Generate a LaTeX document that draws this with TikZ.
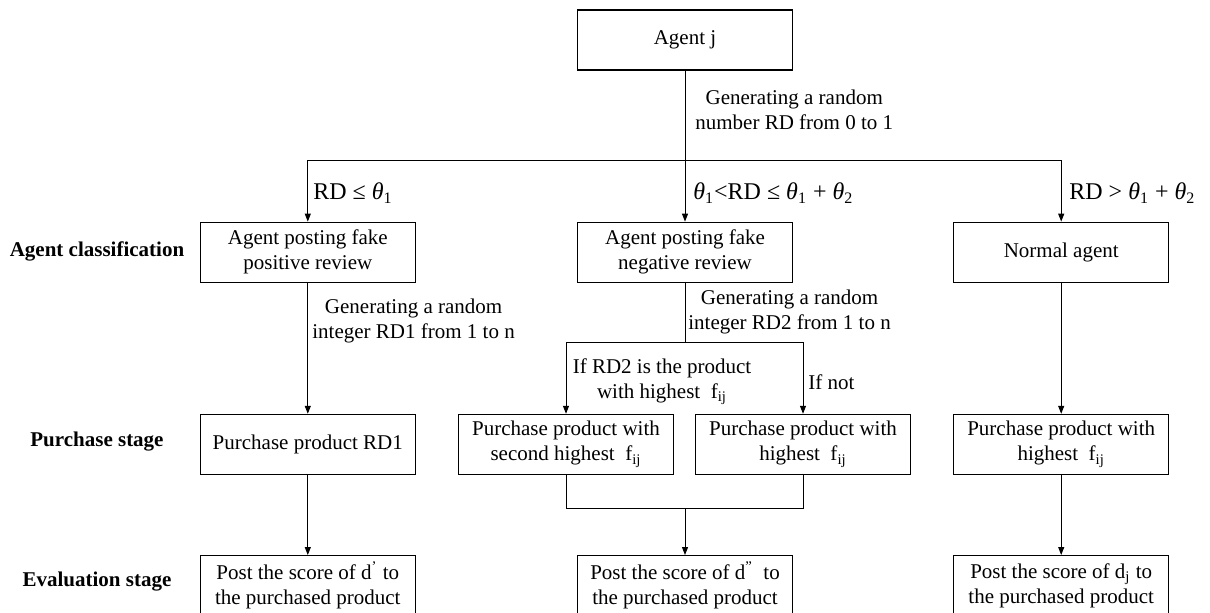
\documentclass[tikz,border=0pt]{standalone}
\usepackage{fontspec}
\setmainfont{Liberation Serif}
\usetikzlibrary{arrows.meta,positioning}

\begin{document}
\begin{tikzpicture}[x=0.5pt, y=-0.5pt, font=\fontsize{10.5}{12.5}\selectfont,
      >={Triangle[length=4pt, width=3pt]},
      box/.style={draw, line width=0.6pt, align=center, inner sep=2pt,
                  minimum width=107.5pt, minimum height=30pt},
      stage/.style={font=\fontsize{10.5}{12.5}\selectfont\bfseries},
      lbl/.style={align=center, inner sep=0pt},
      mlbl/.style={font=\fontsize{12}{14}\selectfont, anchor=west, inner sep=0pt},
      ar/.style={->, line width=0.5pt}]
    \useasboundingbox (0,0) rectangle (1210,612);
    % --- agent and its three classes ---
    \node[box] (agent) at (685,40) {Agent j};
    \node[box, below=75.5pt of agent] (neg) {Agent posting fake\\negative review};
    \node[box, left=80.5pt of neg] (pos) {Agent posting fake\\positive review};
    \node[box, right=80pt of neg] (norm) {Normal agent};
    \coordinate (fork) at (685,160);
    \draw[line width=0.5pt] (agent.south) -- (fork);
    \draw[ar] (fork) -| (pos.north);
    \draw[ar] (fork) -- (neg.north);
    \draw[ar] (fork) -| (norm.north);
    \node[lbl, anchor=west] (genrd) at (695,110) {Generating a random\\number RD from 0 to 1};
    \node[mlbl] (cond1) at (313,193) {RD ≤ {\itshape θ}\textsubscript{1}};
    \node[mlbl] (cond2) at (693,193) {{\itshape θ}\textsubscript{1}<RD ≤ {\itshape θ}\textsubscript{1} + {\itshape θ}\textsubscript{2}};
    \node[mlbl] (cond3) at (1069,193) {RD > {\itshape θ}\textsubscript{1} + {\itshape θ}\textsubscript{2}};
    % --- purchase stage ---
    \node[box, below=65.5pt of pos] (buypos) {Purchase product RD1};
    \node[box, below=65.5pt of neg, xshift=-59.5pt] (buysec) {Purchase product with\\second highest\enspace f\textsubscript{ij}};
    \node[box, below=65.5pt of neg, xshift=59pt] (buyhigh) {Purchase product with\\highest\enspace f\textsubscript{ij}};
    \node[box, below=65.5pt of norm] (buynorm) {Purchase product with\\highest\enspace f\textsubscript{ij}};
    \draw[ar] (pos) -- (buypos);
    \node[lbl, anchor=west] (genrd1) at (312,321) {Generating a random\\integer RD1 from 1 to n};
    \coordinate (negfork) at (685,342);
    \draw[line width=0.5pt] (neg.south) -- (negfork);
    \draw[ar] (negfork) -| (buysec.north);
    \draw[ar] (negfork) -| (buyhigh.north);
    \node[lbl, anchor=west] (genrd2) at (688,312) {Generating a random\\integer RD2 from 1 to n};
    \node[lbl] (ifyes) at (662,382) {If RD2 is the product\\with highest\enspace f\textsubscript{ij}};
    \node[lbl, anchor=west] (ifnot) at (808,382) {If not};
    \draw[ar] (norm) -- (buynorm);
    % --- evaluation stage ---
    \node[box, below=40pt of buypos] (evpos) {Post the score of d\textsuperscript{’} to\\the purchased product};
    \node[box, below=40pt of buynorm] (evnorm) {Post the score of d\textsubscript{j} to\\the purchased product};
    \node[box] (evneg) at (evpos -| neg) {Post the score of d\textsuperscript{”}\enspace to\\the purchased product};
    \coordinate (join) at (685,508);
    \draw[line width=0.5pt] (buysec.south) |- (join) -| (buyhigh.south);
    \draw[ar] (join) -- (evneg);
    \draw[ar] (buypos) -- (evpos);
    \draw[ar] (buynorm) -- (evnorm);
    % stage names on the left
    \node[stage] (st1) at (97,251) {Agent classification};
    \node[stage] (st2) at (97,442) {Purchase stage};
    \node[stage] (st3) at (97,582) {Evaluation stage};
\end{tikzpicture}
\end{document}
